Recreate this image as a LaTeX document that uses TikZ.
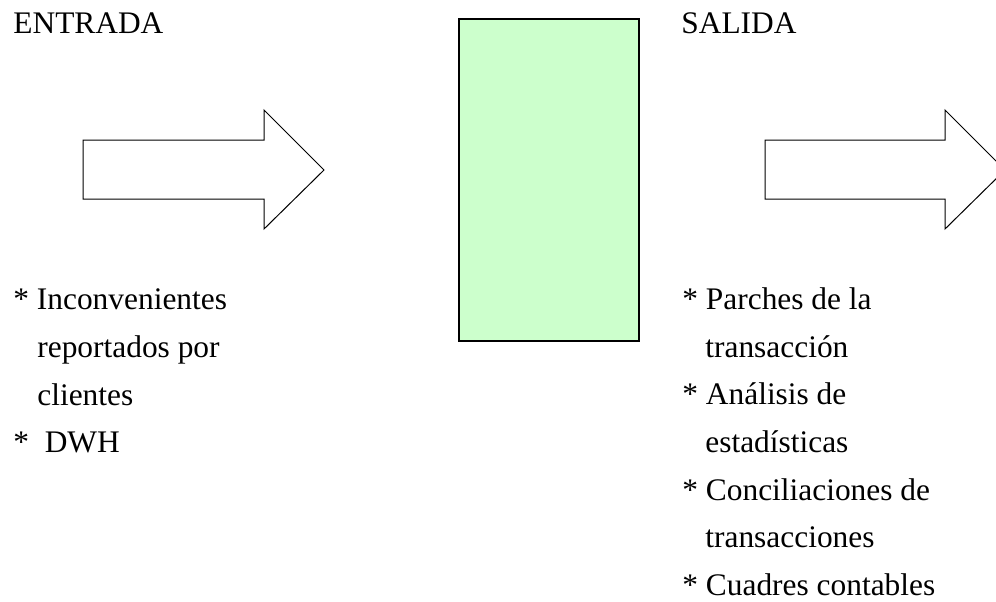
\documentclass[tikz,border=0pt]{standalone}
\usepackage{fontspec}
\setmainfont{Liberation Serif}
\definecolor{verdeclaro}{RGB}{204,255,204}

\begin{document}
\begin{tikzpicture}[x=0.5pt, y=-0.5pt, font=\fontsize{15.7}{18}\selectfont,
		texto/.style={anchor=base west, inner sep=0pt}]
		\useasboundingbox (0,0) rectangle (996,601);
		\clip (0,0) rectangle (996,601);
		
		\draw [line width=0.8pt, fill=verdeclaro] (459,19) rectangle (639,341); % El proceso
		
		\draw [line width=0.5pt] (83,140) -- (264,140) -- (264,110) -- (324,170) -- (264,229) -- (264,199) -- (83,199) -- cycle; % Flecha de entrada
		\draw [line width=0.5pt] (765,140) -- (945,140) -- (945,110) -- (1005,170) -- (945,229) -- (945,199) -- (765,199) -- cycle; % Flecha de salida
		
		\node [texto] (entrada) at (13,33) {ENTRADA};
		\node [texto] (salida) at (681,33) {SALIDA};
		
		% Entradas
		\node [texto] (ent1) at (13,309) {* Inconvenientes};
		\node [texto] (ent1b) at (37,357) {reportados por};
		\node [texto] (ent1c) at (37,405) {clientes};
		\node [texto] (ent2) at (13,452) {*\ \ DWH};
		
		% Salidas
		\node [texto] (sal1) at (682,309) {* Parches de la};
		\node [texto] (sal1b) at (705,357) {transacción};
		\node [texto] (sal2) at (682,404) {* Análisis de};
		\node [texto] (sal2b) at (705,452) {estadísticas};
		\node [texto] (sal3) at (682,500) {* Conciliaciones de};
		\node [texto] (sal3b) at (705,547) {transacciones};
		\node [texto] (sal4) at (682,595) {* Cuadres contables};
	\end{tikzpicture}
\end{document}
